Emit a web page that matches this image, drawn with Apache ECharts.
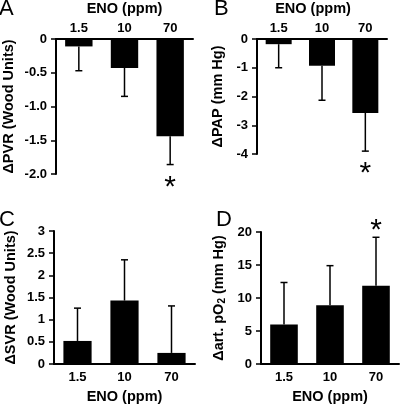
<!DOCTYPE html>
<html>
<head>
<meta charset="utf-8">
<script src="https://cdn.jsdelivr.net/npm/echarts@6/dist/echarts.min.js"></script>
<style>
html,body{margin:0;padding:0;background:#fff;}
#chart{width:400px;height:405px;}
</style>
</head>
<body>
<div id="chart"></div>
<script>
// ---- data ----
var categories = ['1.5', '10', '70'];
var xAxisTitle = 'ENO (ppm)';

var meanA = [-0.11, -0.43, -1.44];   // ΔPVR (Wood Units)
var errA  = [0.36, 0.42, 0.42];
var sigA  = [0, 0, 1];

var meanB = [-0.18, -0.93, -2.57];   // ΔPAP (mm Hg)
var errB  = [0.82, 1.20, 1.33];
var sigB  = [0, 0, 1];

var meanC = [0.52, 1.43, 0.25];      // ΔSVR (Wood Units)
var errC  = [0.74, 0.92, 1.06];
var sigC  = [0, 0, 0];

var meanD = [6.0, 8.9, 11.85];       // Δart. pO2 (mm Hg)
var errD  = [6.35, 6.0, 7.35];
var sigD  = [0, 0, 1];

var panelLetters = ['A', 'B', 'C', 'D'];
var yTitles = ['ΔPVR (Wood Units)', 'ΔPAP (mm Hg)', 'ΔSVR (Wood Units)', '{a|Δart. pO}{s|2}{a| (mm Hg)}'];
var yRanges = [[-2, 0, 0.5], [-4, 0, 1], [0, 3, 0.5], [0, 20, 5]];

// ---- chart ----
var FONT = '"Liberation Sans", Arial, Helvetica, sans-serif';
var chart = echarts.init(document.getElementById('chart'), null, {renderer: 'canvas'});

var grids = [
  {left: 56, top: 34, width: 137, height: 140},
  {left: 257, top: 34, width: 130, height: 120},
  {left: 54, top: 231, width: 141, height: 139},
  {left: 261, top: 232, width: 138, height: 137}
];

var means = [meanA, meanB, meanC, meanD];
var errs = [errA, errB, errC, errD];
var sigs = [sigA, sigB, sigC, sigD];

var xAxes = [], yAxes = [], series = [];
var axLine = {color: '#000', width: 2};
var labelStyle = {color: '#000', fontFamily: FONT, fontWeight: 'bold', fontSize: 13};

for (var k = 0; k < 4; k++) {
  var isTop = k < 2;
  xAxes.push({
    type: 'category', gridIndex: k, data: categories,
    position: isTop ? 'top' : 'bottom',
    boundaryGap: true,
    axisLine: {show: true, onZero: false, lineStyle: axLine},
    axisTick: {show: false},
    axisLabel: Object.assign({margin: isTop ? 4 : 7}, labelStyle),
    name: xAxisTitle, nameLocation: 'middle', nameGap: isTop ? 23 : 25,
    nameTextStyle: {color: '#000', fontFamily: FONT, fontWeight: 'bold', fontSize: 14.5,
      padding: k === 1 ? [0, 18, 0, 0] : 0}
  });
  var r = yRanges[k];
  yAxes.push({
    type: 'value', gridIndex: k, min: r[0], max: r[1], interval: r[2],
    axisLine: {show: true, lineStyle: axLine},
    axisTick: {show: true, length: 5, lineStyle: {color: '#000', width: 1.5}},
    splitLine: {show: false},
    axisLabel: Object.assign({margin: 9,
      formatter: k === 0 ? function (v) { return v === 0 ? '0' : v.toFixed(1); } : null
    }, labelStyle),
    name: yTitles[k], nameLocation: 'middle', nameGap: k === 0 ? 40 : (k === 1 ? 32 : (k === 2 ? 36 : 34)),
    nameTextStyle: {color: '#000', fontFamily: FONT, fontWeight: 'bold', fontSize: 14.5,
      rich: {
        a: {color: '#000', fontFamily: FONT, fontWeight: 'bold', fontSize: 14.5},
        s: {color: '#000', fontFamily: FONT, fontWeight: 'bold', fontSize: 10, verticalAlign: 'bottom', padding: [6, 0, 0, 0]}
      }
    }
  });
  series.push({
    type: 'bar', xAxisIndex: k, yAxisIndex: k, barWidth: '60%',
    itemStyle: {color: '#000'}, data: means[k], animation: false
  });
  var edata = [];
  for (var i = 0; i < categories.length; i++) {
    var m = means[k][i];
    var e = m < 0 ? m - errs[k][i] : m + errs[k][i];
    edata.push([i, m, e, sigs[k][i]]);
  }
  series.push({
    type: 'custom', xAxisIndex: k, yAxisIndex: k, clip: false, animation: false,
    encode: {x: 0, y: [1, 2]},
    data: edata,
    renderItem: function (params, api) {
      var i = api.value(0), m = api.value(1), e = api.value(2), s = api.value(3);
      var p0 = api.coord([i, m]), p1 = api.coord([i, e]);
      var down = p1[1] > p0[1];
      var st = {stroke: '#000', lineWidth: 1.5};
      var children = [
        {type: 'line', shape: {x1: p0[0], y1: p0[1], x2: p1[0], y2: p1[1]}, style: st},
        {type: 'line', shape: {x1: p1[0] - 3.5, y1: p1[1], x2: p1[0] + 3.5, y2: p1[1]}, style: st}
      ];
      if (s) {
        children.push({
          type: 'text',
          style: {
            text: '*', x: p1[0], y: p1[1] + (down ? 23 : -7),
            fill: '#000', font: 'normal 30px ' + FONT,
            textAlign: 'center', textVerticalAlign: 'middle'
          }
        });
      }
      return {type: 'group', children: children};
    }
  });
}

var letterPos = [[-1, -2], [214, -2], [-1, 209], [216, 209]];
var titles = panelLetters.map(function (t, j) {
  return {
    text: t, left: letterPos[j][0], top: letterPos[j][1], padding: 0,
    textStyle: {color: '#000', fontFamily: FONT, fontWeight: 'normal', fontSize: 22}
  };
});

chart.setOption({
  animation: false,
  backgroundColor: '#fff',
  title: titles,
  grid: grids,
  xAxis: xAxes,
  yAxis: yAxes,
  series: series
});
</script>
</body>
</html>
